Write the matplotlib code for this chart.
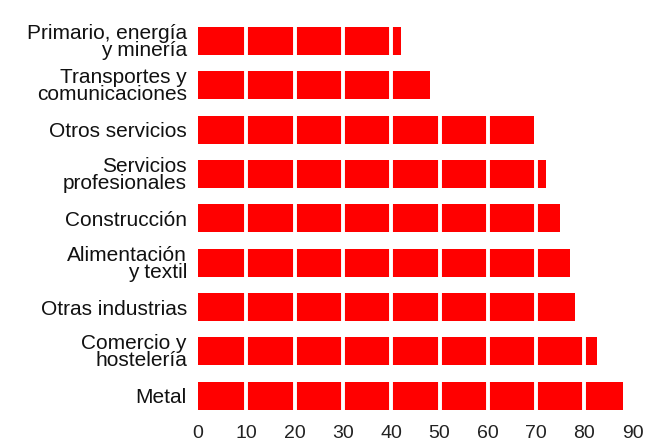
import numpy as np
import matplotlib.pyplot as plt

# Datos (orden de arriba a abajo)
sectores = ['Primario, energía\ny minería', 'Transportes y\ncomunicaciones',
            'Otros servicios', 'Servicios\nprofesionales', 'Construcción',
            'Alimentación\ny textil', 'Otras industrias', 'Comercio y\nhostelería',
            'Metal']
valores = [42, 48, 69.5, 72, 75, 77, 78, 82.5, 88]
marcas = [0, 10, 20, 30, 40, 50, 60, 70, 80, 90]

plt.rcParams['font.family'] = ['Liberation Sans', 'DejaVu Sans']

fig = plt.figure(figsize=(6.45, 4.48), dpi=100)
ax = fig.add_axes([0.307, 0.067, 0.674, 0.891])

y = np.arange(len(sectores))
ax.barh(y, valores, height=0.63, color='#ff0000', zorder=1)

# separadores blancos cada 10 unidades
for m in marcas[1:]:
    ax.axvline(m, color='white', linewidth=2.8, zorder=2)

ax.set_xlim(0, 90)
ax.set_ylim(len(sectores) - 0.5, -0.5)
ax.set_yticks(y)
ax.set_yticklabels(sectores, fontsize=15, linespacing=0.86,
                   multialignment='right', color='#111111')
ax.set_xticks(marcas)
ax.set_xticklabels([str(m) for m in marcas], fontsize=14, color='#222222')
ax.tick_params(axis='both', length=0)
ax.tick_params(axis='y', pad=8)
ax.tick_params(axis='x', pad=5)
for s in ax.spines.values():
    s.set_visible(False)

fig.savefig('out.png', dpi=100)
